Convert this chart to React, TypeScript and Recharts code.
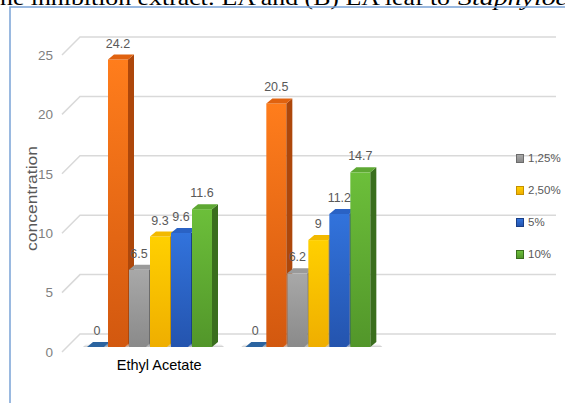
import React from "react";
import { BarChart, Bar, XAxis, YAxis, CartesianGrid, Legend, LabelList } from "recharts";

const CATEGORIES = ["Ethyl Acetate", "", ""];
const NEGATIVE = [0, 0, null];
const POSITIVE = [24.2, 20.5, null];
const C125 = [6.5, 6.2, null];
const C250 = [9.3, 9, null];
const C5 = [9.6, 11.2, null];
const C10 = [11.6, 14.7, null];
const Y_TICKS = [0, 5, 10, 15, 20, 25];
const LEGEND_NAMES = ["1,25%", "2,50%", "5%", "10%"];

const data = CATEGORIES.map((c, i) => ({
  cat: c,
  neg: NEGATIVE[i],
  pos: POSITIVE[i],
  c125: C125[i],
  c250: C250[i],
  c5: C5[i],
  c10: C10[i],
}));

const SERIES = [
  { key: "neg", name: "negative", light: "#2f6aa5", main: "#245a8f", side: "#1a426b", top: "#2b64a0" },
  { key: "pos", name: "positive", light: "#ff7d1c", main: "#d2580f", side: "#ad470b", top: "#e0620f" },
  { key: "c125", name: "1,25%", light: "#a8a8a8", main: "#8a8a8a", side: "#6c6c6c", top: "#9a9a9a" },
  { key: "c250", name: "2,50%", light: "#ffd000", main: "#efae00", side: "#c48f00", top: "#f2b900" },
  { key: "c5", name: "5%", light: "#3273dc", main: "#2454ae", side: "#1b3f86", top: "#2a62c4" },
  { key: "c10", name: "10%", light: "#6cbf3a", main: "#52962a", side: "#3a6e1d", top: "#5ea833" },
];

const FONT = "'Liberation Sans Narrow', 'Liberation Sans', Arial, sans-serif";
const DX = 6;
const DY = 5;

function Bar3D(props: any) {
  const { x, y, width, height, s } = props;
  if (x == null || y == null) return null;
  const w = width;
  const h = Math.max(height, 0);
  const base = y + h;
  return (
    <g>
      <polygon
        points={`${x - 4},${base} ${x + w + DX + 6},${base} ${x + w + DX + 2},${base - DY + 1} ${x},${base - DY + 1}`}
        fill="url(#shadow)"
      />
      <rect x={x} y={y} width={w} height={h} fill={`url(#grad-${s.key})`} />
      <polygon
        points={`${x + w},${y} ${x + w + DX},${y - DY} ${x + w + DX},${y + h - DY} ${x + w},${y + h}`}
        fill={s.side}
      />
      <polygon
        points={`${x},${y} ${x + DX},${y - DY} ${x + w + DX},${y - DY} ${x + w},${y}`}
        fill={s.top}
      />
    </g>
  );
}

function ValueLabel(props: any) {
  const { x, y, width, value } = props;
  if (value == null) return null;
  return (
    <text x={x + width / 2} y={y - 12} textAnchor="middle" fill="#595959" fontSize={12.5} fontFamily={FONT}>
      {value}
    </text>
  );
}

function GridLine(props: any) {
  const { x1, x2, y1 } = props;
  return (
    <polyline
      points={`${x1 - 8},${y1 + 5} ${x1 + 10},${y1 - 13} ${x2 + 11},${y1 - 13}`}
      fill="none"
      stroke="#d9d9d9"
      strokeWidth={1.5}
    />
  );
}

function YTick(props: any) {
  const { x, y, payload } = props;
  return (
    <text x={x - 9} y={y + 5} dy="0.35em" textAnchor="end" fill="#7f7f7f" fontSize={13.5} fontFamily={FONT}>
      {payload.value}
    </text>
  );
}

function XTick(props: any) {
  const { x, y, payload } = props;
  if (!payload.value) return null;
  return (
    <text x={x + 10} y={y + 15} textAnchor="middle" fill="#000000" fontSize={14.5} fontFamily={FONT}>
      {payload.value}
    </text>
  );
}

function LegendContent() {
  const items = SERIES.filter((s) => LEGEND_NAMES.includes(s.name));
  return (
    <div style={{ fontFamily: FONT }}>
      {items.map((s) => (
        <div key={s.key} style={{ display: "flex", alignItems: "center", height: 32, fontSize: 11.5, color: "#595959" }}>
          <span
            style={{
              display: "inline-block",
              width: 6,
              height: 7,
              marginRight: 4,
              background: `linear-gradient(${s.light}, ${s.main})`,
              border: `1px solid ${s.side}`,
            }}
          />
          {s.name}
        </div>
      ))}
    </div>
  );
}

function YLabel(props: any) {
  const vb = props.viewBox || { x: 0, y: 0, width: 0, height: 0 };
  const cx = 37;
  const cy = vb.y + vb.height / 2;
  return (
    <text
      x={cx}
      y={cy}
      transform={`rotate(-90, ${cx}, ${cy})`}
      textAnchor="middle"
      fill="#595959"
      fontSize={14}
      fontFamily={FONT}
      textLength={105}
      lengthAdjust="spacingAndGlyphs"
    >
      concentration
    </text>
  );
}

export default function App() {
  return (
    <div style={{ position: "absolute", left: 0, top: 0, width: 565, height: 403, background: "#fff", overflow: "hidden" }}>
      <svg width={565} height={403} style={{ position: "absolute", left: 0, top: 0 }}>
        <text x={0} y={5} fontSize={22} fontFamily="'Liberation Serif', 'Times New Roman', serif" fill="#000" textLength={450} lengthAdjust="spacingAndGlyphs">
          ne inhibition extract: EA and (B) EA leaf to
        </text>
        <text x={458} y={5} fontSize={22} fontStyle="italic" fontFamily="'Liberation Serif', 'Times New Roman', serif" fill="#000" textLength={110} lengthAdjust="spacingAndGlyphs">
          Staphyloc
        </text>
        <polyline points="10,403 10,7 565,7" fill="none" stroke="#7aa3d6" strokeWidth={1.5} />
      </svg>
      <div style={{ position: "absolute", left: 0, top: 0 }}>
        <BarChart
          width={565}
          height={403}
          data={data}
          margin={{ top: 50, right: 20, bottom: 26, left: 0 }}
          barSize={20}
          barGap={1}
        >
          <defs>
            {SERIES.map((s) => (
              <linearGradient key={s.key} id={`grad-${s.key}`} x1="0" y1="0" x2="0" y2="1">
                <stop offset="0%" stopColor={s.light} />
                <stop offset="100%" stopColor={s.main} />
              </linearGradient>
            ))}
            <linearGradient id="shadow" x1="0" y1="1" x2="0" y2="0">
              <stop offset="0%" stopColor="#bfbfbf" stopOpacity={0.9} />
              <stop offset="100%" stopColor="#ffffff" stopOpacity={0} />
            </linearGradient>
          </defs>
          <CartesianGrid vertical={false} horizontal={(p: any) => <GridLine {...p} />} />
          <XAxis dataKey="cat" axisLine={false} tickLine={false} height={30} tick={<XTick />} interval={0} />
          <YAxis
            width={70}
            domain={[0, 25]}
            ticks={Y_TICKS}
            axisLine={false}
            tickLine={false}
            tick={<YTick />}
            label={(p: any) => <YLabel {...p} />}
          />
          <Legend
            layout="vertical"
            align="center"
            verticalAlign="middle"
            content={<LegendContent />}
            wrapperStyle={{ left: 516, top: 142, width: 50 }}
          />
          {SERIES.map((s) => (
            <Bar
              key={s.key}
              dataKey={s.key}
              name={s.name}
              fill={s.main}
              isAnimationActive={false}
              shape={(p: any) => <Bar3D {...p} s={s} />}
            >
              <LabelList dataKey={s.key} content={<ValueLabel />} />
            </Bar>
          ))}
        </BarChart>
      </div>
    </div>
  );
}
